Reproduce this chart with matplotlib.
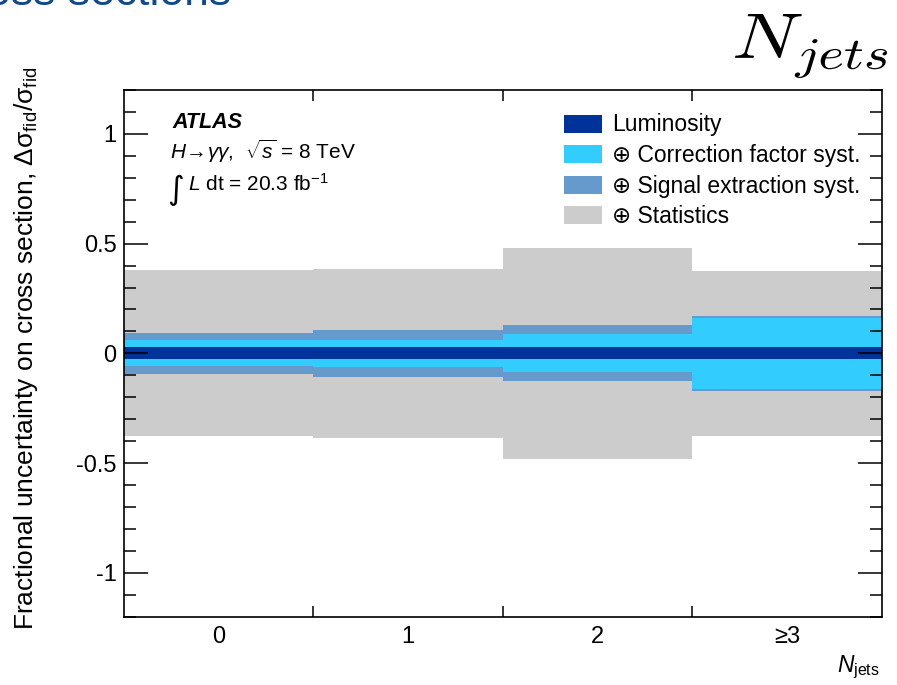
import matplotlib
matplotlib.use("Agg")
import matplotlib.pyplot as plt
from matplotlib.textpath import TextPath
from matplotlib.patches import PathPatch
from matplotlib.font_manager import FontProperties
from matplotlib.transforms import Affine2D
from matplotlib.ticker import MultipleLocator

# data (cumulative, added in quadrature)
bins = ["0", "1", "2", "\u22653"]
lumi = [0.028, 0.028, 0.028, 0.028]
corr_syst = [0.059, 0.061, 0.087, 0.163]
signal_syst = [0.092, 0.108, 0.127, 0.172]
stat = [0.378, 0.385, 0.482, 0.377]

labels = ["Luminosity", "\u2295 Correction factor syst.",
          "\u2295 Signal extraction syst.", "\u2295 Statistics"]
colors = ["#003399", "#33ccff", "#6699cc", "#cccccc"]

plt.rcParams["font.family"] = ["Liberation Sans", "DejaVu Sans"]
plt.rcParams["mathtext.fontset"] = "custom"
plt.rcParams["mathtext.rm"] = "Liberation Sans"
plt.rcParams["mathtext.it"] = "Liberation Sans:italic"
plt.rcParams["mathtext.bf"] = "Liberation Sans:bold"
plt.rcParams["axes.unicode_minus"] = False

W, H = 897, 685
fig = plt.figure(figsize=(W / 100, H / 100), dpi=100)


def fx(px):
    return px / W


def fy(py):
    return 1 - py / H


ax = fig.add_axes([fx(123.5), fy(616.7), (881.7 - 123.5) / W, (616.7 - 90) / H])

x = range(len(bins))
# widest band first so the narrower ones sit on top
handles = {}
for vals, col, lab in zip([stat, signal_syst, corr_syst, lumi],
                          colors[::-1], labels[::-1]):
    b = ax.bar(x, [2 * v for v in vals], bottom=[-v for v in vals], width=1.0,
               color=col, linewidth=0, label=lab)
    handles[lab] = b

ax.set_xlim(-0.5, len(bins) - 0.5)
ax.set_ylim(-1.2, 1.2)

ax.set_xticks(list(x), labels=bins)
ax.set_xticks([0.5, 1.5, 2.5], minor=True)
ax.tick_params(axis="x", which="major", length=0, pad=7, labelsize=17)
ax.tick_params(axis="x", which="minor", length=8, width=1.1, direction="in",
               top=True, bottom=True)

ax.set_yticks([-1, -0.5, 0, 0.5, 1], labels=["-1", "-0.5", "0", "0.5", "1"])
ax.yaxis.set_minor_locator(MultipleLocator(0.1))
ax.tick_params(axis="y", which="major", length=17, width=1.1, direction="in",
               left=True, right=True, pad=5, labelsize=17)
ax.tick_params(axis="y", which="minor", length=8.5, width=1.1, direction="in",
               left=True, right=True)
for s in ax.spines.values():
    s.set_linewidth(1.2)

fs_leg = 16.5
ax.legend([handles[l] for l in labels], labels, loc="upper left",
          bbox_to_anchor=((564 - 123.5) / 758.2, (616.7 - 113.5) / 526.7),
          frameon=False, fontsize=fs_leg, borderpad=0, borderaxespad=0,
          handlelength=1.66, handleheight=0.83, handletextpad=0.44,
          labelspacing=0.33)

# ATLAS label block
fig.text(fx(172), fy(127.5), "ATLAS", fontsize=15.5, fontweight="bold",
         fontstyle="italic", va="baseline")
fig.text(fx(170), fy(159), r"$H\!\rightarrow\!\gamma\gamma$,  $\sqrt{s}$ = 8 TeV",
         fontsize=15, va="baseline")
fig.text(fx(167), fy(199), "\u222b", fontsize=23, va="baseline",
         family="DejaVu Sans")
fig.text(fx(188), fy(191), r"$L$ dt = 20.3 fb$^{-1}$", fontsize=15,
         va="baseline")

# axis titles
fig.text(fx(26), fy(348),
         r"Fractional uncertainty on cross section, $\Delta\mathrm{\sigma}_{\mathrm{fid}}/\mathrm{\sigma}_{\mathrm{fid}}$",
         rotation=90, ha="center", va="center", fontsize=19)
fig.text(fx(880), fy(672), r"$N_{\mathrm{jets}}$", ha="right", va="baseline",
         fontsize=16.5)

# slide title, cut off at the top edge like in the source slide
fig.text(fx(231), fy(5), "Differential cross sections", ha="right",
         va="baseline", fontsize=32, color="#114a8b")

# big LaTeX N_jets in the top right corner, fitted to its box
tp = TextPath((0, 0), r"$N_{jets}$", size=40,
              prop=FontProperties(math_fontfamily="cm"))
ext = tp.get_extents()
x0, x1, ytop, ybot = 735, 887, 14, 78
sx = (x1 - x0) / ext.width
sy = (ybot - ytop) / ext.height
tr = Affine2D().translate(-ext.x0, -ext.y0).scale(sx, sy).translate(x0, H - ybot)
fig.add_artist(PathPatch(tp, transform=tr, facecolor="black", linewidth=0))

fig.savefig("out.png", dpi=100)
